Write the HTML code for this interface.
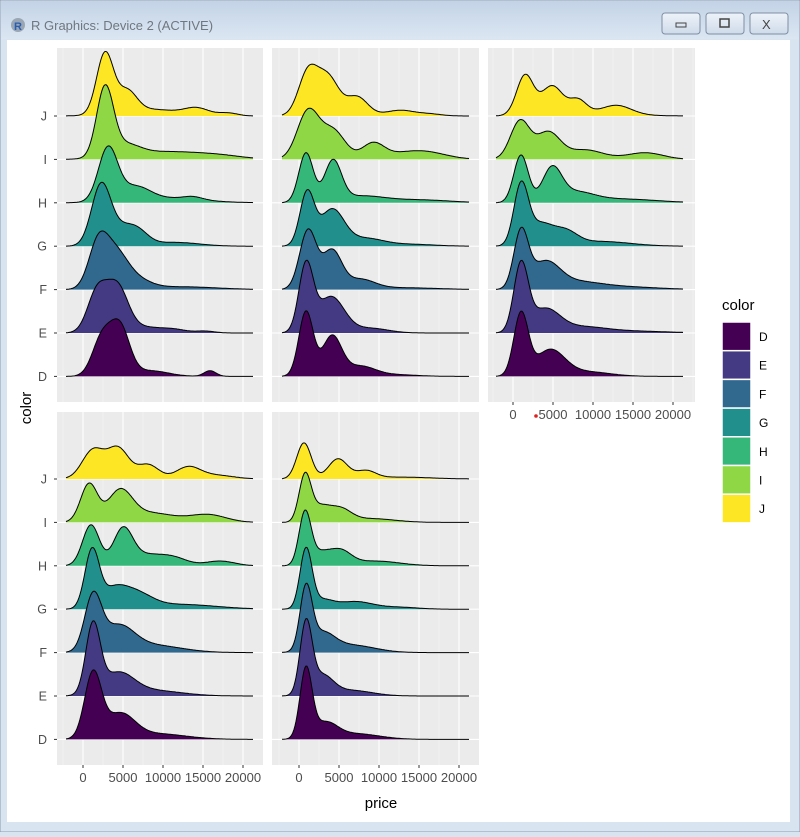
<!DOCTYPE html>
<html><head><meta charset="utf-8"><style>
body{margin:0;width:800px;height:832px;overflow:hidden;background:#d9e4f1;font-family:"Liberation Sans",sans-serif}
</style></head><body>
<svg id="s" width="800" height="832" xmlns="http://www.w3.org/2000/svg" font-family="Liberation Sans, sans-serif">
<defs><linearGradient id="tb" x1="0" y1="0" x2="0" y2="1"><stop offset="0" stop-color="#c3d3e6"/><stop offset="1" stop-color="#dbe6f2"/></linearGradient>
<linearGradient id="bt" x1="0" y1="0" x2="0" y2="1"><stop offset="0" stop-color="#eef3f9"/><stop offset="1" stop-color="#cfdbea"/></linearGradient></defs>
<rect x="0" y="0" width="800" height="832" fill="#d9e4f1" stroke="#8a9aae"/>
<rect x="1" y="1" width="798" height="38" fill="url(#tb)"/>
<circle cx="18" cy="25" r="7" fill="#9aa6b4"/><text x="14" y="30" font-size="11" font-weight="bold" fill="#2a5db0">R</text>
<text x="31" y="30" font-size="13" fill="#6f7780">R Graphics: Device 2 (ACTIVE)</text>
<g stroke="#7f8ea3" fill="url(#bt)"><rect x="662" y="13" width="38" height="21" rx="3"/><rect x="706" y="13" width="38" height="21" rx="3"/><rect x="750" y="13" width="38" height="21" rx="3"/></g>
<rect x="676" y="23" width="10" height="4" fill="none" stroke="#444"/><rect x="720" y="19" width="9" height="8" fill="none" stroke="#444" stroke-width="1.5"/>
<text x="762" y="29" font-size="13" fill="#444">X</text>
<rect x="7" y="40" width="783" height="782" fill="#fff"/>
<g id="g"></g>
</svg>
<script>
const cols={D:"#440154",E:"#443A83",F:"#31688E",G:"#21908C",H:"#35B779",I:"#8FD744",J:"#FDE725"};
const lv=["J","I","H","G","F","E","D"];
const P=[
{x:57,w:206,y:48,h:354,x0:83,b:116,d:[
[[105,7,64],[127,8,22],[150,25,7],[197,10,7],[228,8,3]],
[[105,7,72],[125,12,12],[165,30,8],[220,20,3]],
[[108,8,56],[135,12,14],[165,30,5],[193,8,3]],
[[101,8,62],[125,12,20],[140,8,6],[175,20,4]],
[[98,8,45],[115,10,35],[135,12,10],[180,30,3]],
[[97,8,42],[117,9,48],[145,15,6],[175,10,3],[205,8,2]],
[[102,8,40],[120,8,50],[150,15,6],[210,5,6]]]},
{x:272,w:207,y:48,h:354,x0:299,b:116,d:[
[[308,8,45],[328,9,40],[357,9,20],[400,12,6],[430,10,2]],
[[308,9,50],[333,10,30],[373,9,15],[425,18,7],[395,20,4]],
[[306,6,52],[333,7,42],[360,20,7],[420,25,3]],
[[307,6,55],[332,10,38],[365,15,8],[410,20,2]],
[[308,7,62],[332,8,40],[360,12,10],[400,30,2]],
[[306,6,70],[331,11,38],[370,15,5]],
[[306,6,68],[332,8,42],[360,12,10],[390,20,2]]]},
{x:488,w:207,y:48,h:354,x0:513,b:116,d:[
[[525,7,42],[552,9,30],[578,7,14],[617,12,9],[590,30,3]],
[[520,8,40],[548,10,28],[585,15,10],[645,15,7]],
[[521,6,50],[552,8,34],[575,15,10],[620,30,4]],
[[521,6,62],[540,10,22],[565,10,14],[600,25,5]],
[[521,6,58],[545,12,27],[575,20,7],[620,30,3]],
[[521,6,70],[545,12,24],[580,20,6],[630,30,2]],
[[521,6,65],[550,12,27],[585,20,5]]]},
{x:57,w:206,y:412,h:353,x0:83,b:479,d:[
[[93,9,30],[118,9,32],[148,9,15],[188,10,12],[215,15,4]],
[[89,7,40],[120,10,31],[150,20,10],[208,15,8]],
[[91,7,43],[123,8,38],[145,12,10],[172,12,9],[220,12,5]],
[[92,6,60],[112,10,15],[133,14,17],[180,30,5]],
[[93,7,56],[118,13,25],[150,25,8]],
[[93,6,72],[118,13,22],[150,25,6]],
[[93,7,68],[120,12,25],[155,25,6]]]},
{x:272,w:207,y:412,h:353,x0:299,b:479,d:[
[[304,6,38],[338,8,21],[366,8,8],[400,25,2]],
[[305,5,48],[320,8,15],[340,9,13],[370,20,4]],
[[305,5,55],[320,8,12],[340,9,15],[375,20,5]],
[[306,5,62],[322,9,9],[355,15,8],[400,15,2]],
[[306,5,64],[322,10,18],[350,20,8]],
[[306,5,74],[322,9,20],[350,18,6]],
[[306,5,72],[325,10,16],[355,20,6]]]}];
const sp=43.4;
let o="";
P.forEach((p,pi)=>{
 o+=`<rect x="${p.x}" y="${p.y}" width="${p.w}" height="${p.h}" fill="#ebebeb"/>`;
 for(let k=-1;k<=4;k++){let xm=p.x0+k*40+20;if(xm>p.x&&xm<p.x+p.w)o+=`<line x1="${xm}" x2="${xm}" y1="${p.y}" y2="${p.y+p.h}" stroke="#f7f7f7" stroke-width="0.6"/>`;}
 for(let k=0;k<=4;k++){let xm=p.x0+k*40;o+=`<line x1="${xm}" x2="${xm}" y1="${p.y}" y2="${p.y+p.h}" stroke="#fff" stroke-width="1.1"/>`;}
 lv.forEach((l,i)=>{let by=p.b+i*sp;o+=`<line x1="${p.x}" x2="${p.x+p.w}" y1="${by}" y2="${by}" stroke="#fff" stroke-width="1.1"/>`;});
 lv.forEach((l,i)=>{let by=p.b+i*sp;let xs=p.x0-17,xe=p.x0+170;let pts=[];
  for(let x=xs;x<=xe;x+=1){let v=0;p.d[i].forEach(g=>{let s=g[1]*1.2;v+=0.95*g[2]*Math.exp(-((x-g[0])**2)/(2*s*s));});pts.push([x,by-v]);}
  let line=pts.map((q,j)=>(j?"L":"M")+q[0]+" "+q[1].toFixed(1)).join("");
  o+=`<path d="${line}L${xe} ${by}L${xs} ${by}Z" fill="${cols[l]}"/><path d="${line}" fill="none" stroke="#000" stroke-width="1"/>`;});
 if(pi==0||pi==3){lv.forEach((l,i)=>{let by=p.b+i*sp;o+=`<line x1="${p.x-3}" x2="${p.x}" y1="${by}" y2="${by}" stroke="#333"/><text x="${p.x-10}" y="${by+4.5}" font-size="12.5" fill="#4d4d4d" text-anchor="end">${l}</text>`;});}
 if(pi>=2){["0","5000","10000","15000","20000"].forEach((t,k)=>{let xm=p.x0+k*40;o+=`<line x1="${xm}" x2="${xm}" y1="${p.y+p.h}" y2="${p.y+p.h+3}" stroke="#333"/><text x="${xm}" y="${p.y+p.h+17}" font-size="13" fill="#4d4d4d" text-anchor="middle">${t}</text>`;});}
});
o+=`<text x="381" y="808" font-size="15" fill="#000" text-anchor="middle">price</text>`;
o+=`<text transform="translate(31,408) rotate(-90)" font-size="15" fill="#000" text-anchor="middle">color</text>`;
o+=`<circle cx="536" cy="416" r="1.8" fill="#e02020"/>`;
o+=`<text x="722" y="310" font-size="15" fill="#000">color</text>`;
["D","E","F","G","H","I","J"].forEach((l,i)=>{let y=322+i*28.7;o+=`<rect x="722" y="${y}" width="29" height="28.7" fill="${cols[l]}" stroke="#fff" stroke-width="1.5"/><text x="759" y="${y+19}" font-size="12" fill="#000">${l}</text>`;});
document.getElementById("g").innerHTML=o;
</script>
</body></html>
